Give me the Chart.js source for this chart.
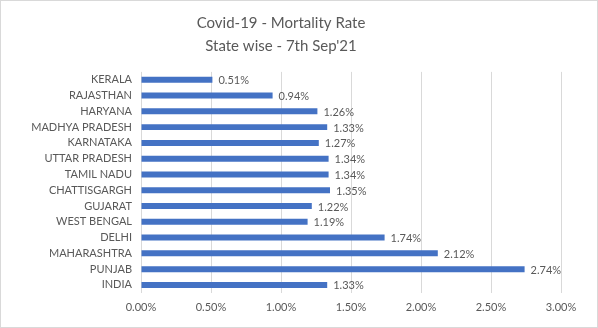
<!DOCTYPE html>
<html>
<head>
<meta charset="utf-8">
<script src="https://cdn.jsdelivr.net/npm/chart.js@4"></script>
<style>
    body { margin: 0; background: #fff; }
    #wrap { width: 598px; height: 328px; box-sizing: border-box; border: 1px solid #d9d9d9; }
    canvas { display: block; }
</style>
</head>
<body>
<div id="wrap"><canvas id="myChart" width="596" height="326"></canvas></div>
<script>
var states = ['KERALA', 'RAJASTHAN', 'HARYANA', 'MADHYA PRADESH', 'KARNATAKA', 'UTTAR PRADESH',
    'TAMIL NADU', 'CHATTISGARGH', 'GUJARAT', 'WEST BENGAL', 'DELHI', 'MAHARASHTRA', 'PUNJAB', 'INDIA'];
var mortality = [0.51, 0.94, 1.26, 1.33, 1.27, 1.34, 1.34, 1.35, 1.22, 1.19, 1.74, 2.12, 2.74, 1.33];
var titleLines = ['Covid-19 - Mortality Rate', "State wise - 7th Sep'21"];

var textColor = '#595959';
var fontFamily = 'Lato, "Open Sans", sans-serif';

// value labels at the end of each bar
var barLabels = {
    id: 'barLabels',
    afterDatasetsDraw: function(chart) {
        var ctx = chart.ctx;
        var meta = chart.getDatasetMeta(0);
        ctx.save();
        ctx.font = '11px ' + fontFamily;
        ctx.fillStyle = textColor;
        ctx.textAlign = 'left';
        ctx.textBaseline = 'middle';
        meta.data.forEach(function(bar, i) {
            ctx.fillText(mortality[i].toFixed(2) + '%', bar.x + 6, bar.y + 1);
        });
        ctx.restore();
    }
};

var ctx = document.getElementById('myChart').getContext('2d');
var myChart = new Chart(ctx, {
    type: 'bar',
    data: {
        labels: states,
        datasets: [{
            label: 'Mortality Rate',
            data: mortality,
            backgroundColor: '#4472C4',
            categoryPercentage: 1.0,
            barPercentage: 0.38
        }]
    },
    options: {
        indexAxis: 'y',
        responsive: false,
        animation: false,
        layout: {
            padding: { left: 0, right: 36, top: 0, bottom: 5 }
        },
        scales: {
            x: {
                min: 0,
                max: 3,
                border: { display: false },
                grid: { color: '#d9d9d9', drawTicks: false },
                ticks: {
                    stepSize: 0.5,
                    padding: 8,
                    color: textColor,
                    font: { family: fontFamily, size: 11 },
                    callback: function(v) { return v.toFixed(2) + '%'; }
                }
            },
            y: {
                border: { display: false },
                grid: { display: false, drawTicks: false },
                ticks: {
                    autoSkip: false,
                    padding: 9,
                    color: textColor,
                    font: { family: fontFamily, size: 11 }
                },
                afterFit: function(scale) { scale.width = 140; }
            }
        },
        plugins: {
            legend: { display: false },
            tooltip: { enabled: false },
            title: {
                display: true,
                text: titleLines,
                color: textColor,
                font: { family: fontFamily, size: 15, weight: 'normal', lineHeight: 1.53 },
                padding: { top: 11, bottom: 14 }
            }
        }
    },
    plugins: [barLabels]
});
</script>
</body>
</html>
